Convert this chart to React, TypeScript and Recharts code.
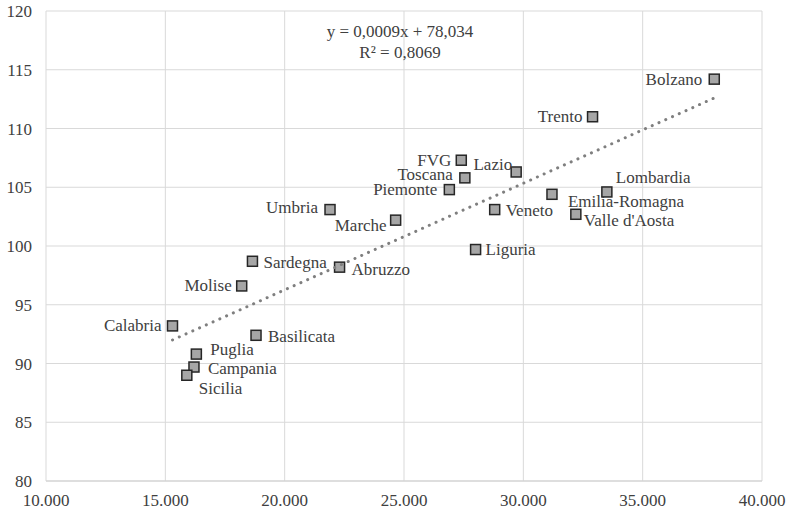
import { ScatterChart, Scatter, XAxis, YAxis, CartesianGrid } from 'recharts';

// regional data
const regions = [
  'Bolzano', 'Trento', 'FVG', 'Toscana', 'Lazio', 'Piemonte', 'Emilia-Romagna',
  'Lombardia', 'Veneto', "Valle d'Aosta", 'Liguria', 'Marche', 'Umbria', 'Sardegna',
  'Abruzzo', 'Molise', 'Calabria', 'Basilicata', 'Puglia', 'Campania', 'Sicilia',
];
const income = [
  38000, 32900, 27400, 27550, 29700, 26900, 31200,
  33500, 28800, 32200, 28000, 24650, 21900, 18650,
  22300, 18200, 15300, 18800, 16300, 16200, 15900,
];
const score = [
  114.2, 111.0, 107.3, 105.8, 106.3, 104.8, 104.4,
  104.6, 103.1, 102.7, 99.7, 102.2, 103.1, 98.7,
  98.2, 96.6, 93.2, 92.4, 90.8, 89.7, 89.0,
];

// trendline ends as drawn
const trendX = [15300, 38000];
const trendY = [92.0, 112.6];

const xTicks = [10000, 15000, 20000, 25000, 30000, 35000, 40000];
const yTicks = [80, 85, 90, 95, 100, 105, 110, 115, 120];

const points = regions.map((name, i) => ({ name, x: income[i], y: score[i] }));
const trend = trendX.map((x, i) => ({ x, y: trendY[i] }));

// where each label sits relative to its marker: [dx, dy, anchor]
const labelPlace: Record<string, [number, number, 'start' | 'end']> = {
  Bolzano: [-12, 0, 'end'],
  Trento: [-10, 0, 'end'],
  FVG: [-10, 0, 'end'],
  Toscana: [-12, -3, 'end'],
  Lazio: [-4, -7, 'end'],
  Piemonte: [-12, 0, 'end'],
  'Emilia-Romagna': [16, 7, 'start'],
  Lombardia: [9, -14, 'start'],
  Veneto: [11, 1, 'start'],
  "Valle d'Aosta": [8, 6, 'start'],
  Liguria: [10, 0, 'start'],
  Marche: [-9, 5, 'end'],
  Umbria: [-12, -2, 'end'],
  Sardegna: [11, 1, 'start'],
  Abruzzo: [12, 2, 'start'],
  Molise: [-10, 0, 'end'],
  Calabria: [-11, 0, 'end'],
  Basilicata: [12, 1, 'start'],
  Puglia: [14, -5, 'start'],
  Campania: [14, 1, 'start'],
  Sicilia: [12, 13, 'start'],
};

const font = 'Liberation Serif, Tinos, DejaVu Serif, serif';
const textColor = '#404040';

const fmt = (v: number) => String(v).replace(/\B(?=(\d{3})+(?!\d))/g, '.');

function Marker(props: any) {
  const { cx, cy, payload } = props;
  const [dx, dy, anchor] = labelPlace[payload.name] || [10, 0, 'start'];
  return (
    <g>
      <rect x={cx - 5} y={cy - 5} width={10} height={10} fill="#a6a6a6" stroke="#262626" strokeWidth={1.5} />
      <text
        x={cx + dx}
        y={cy + dy}
        textAnchor={anchor}
        dominantBaseline="central"
        style={{ fontFamily: font }}
        fontSize={17}
        fill={textColor}
      >
        {payload.name}
      </text>
    </g>
  );
}

export default function App() {
  return (
    <div style={{ position: 'absolute', left: 0, top: 0, background: '#fff', fontFamily: font }}>
      <ScatterChart width={787} height={512} margin={{ top: 11, right: 25, bottom: 6, left: 6 }} style={{ fontFamily: font }}>
        <CartesianGrid stroke="#d9d9d9" />
        <XAxis
          type="number"
          dataKey="x"
          domain={[10000, 40000]}
          ticks={xTicks}
          tickFormatter={fmt}
          height={25}
          tickLine={false}
          tickSize={0}
          tickMargin={13}
          axisLine={{ stroke: '#d0d0d0' }}
          tick={{ style: { fontFamily: font }, fontSize: 17, fill: textColor }}
        />
        <YAxis
          type="number"
          dataKey="y"
          domain={[80, 120]}
          ticks={yTicks}
          width={40}
          tickLine={false}
          tickSize={0}
          tickMargin={14}
          axisLine={false}
          tick={{ style: { fontFamily: font }, fontSize: 17, fill: textColor }}
        />
        <Scatter data={points} shape={<Marker />} isAnimationActive={false} />
        <Scatter
          data={trend}
          line={{ stroke: '#7f7f7f', strokeWidth: 3, strokeDasharray: '0.1 7.3', strokeLinecap: 'round' }}
          shape={() => null}
          isAnimationActive={false}
        />
        <text x={400} y={31} textAnchor="middle" dominantBaseline="central" style={{ fontFamily: font }} fontSize={17} fill={textColor}>
          y = 0,0009x + 78,034
        </text>
        <text x={400} y={52} textAnchor="middle" dominantBaseline="central" style={{ fontFamily: font }} fontSize={17} fill={textColor}>
          R² = 0,8069
        </text>
      </ScatterChart>
    </div>
  );
}
